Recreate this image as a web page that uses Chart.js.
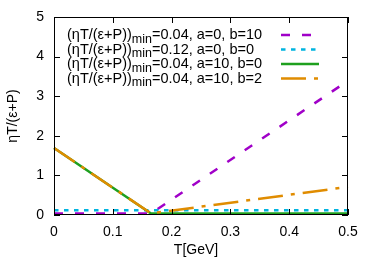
<!DOCTYPE html>
<html>
<head>
<meta charset="utf-8">
<script src="https://cdn.jsdelivr.net/npm/chart.js@4.4.1/dist/chart.umd.min.js"></script>
<style>
  html, body { margin: 0; padding: 0; background: #fff; }
  #wrap { width: 374px; height: 262px; }
</style>
</head>
<body>
<div id="wrap"><canvas id="c" width="374" height="262"></canvas></div>
<script>
// kink points of each curve
const temps = [0, 0.165, 0.5];
const seriesA0B10 = [0.04, 0.04, 3.39];
const seriesA0B0 = [0.12, 0.12, 0.12];
const seriesA10B0 = [1.69, 0.04, 0.04];
const seriesA10B2 = [1.69, 0.04, 0.71];

const xTicks = [0, 0.1, 0.2, 0.3, 0.4, 0.5];
const yTicks = [0, 1, 2, 3, 4, 5];

const legendMins = ["0.04", "0.12", "0.04", "0.04"];
const legendParams = [", a=0, b=10", ", a=0, b=0", ", a=10, b=0", ", a=10, b=2"];

const FONT = "Liberation Sans, Arial, sans-serif";
const colors = ["#a000c8", "#00b4e0", "#1ea01e", "#e08c00"];
const dashes = [[9, 12], [4.5, 5.5], [], [25, 8, 4, 8]];

const toPoints = (ys) => temps.map((t, i) => ({ x: t, y: ys[i] }));

// frame with inward ticks, gnuplot style, plus the key and x title
const framePlugin = {
  id: "frame",
  afterDraw(chart) {
    const { ctx, chartArea: a, scales } = chart;
    ctx.save();
    ctx.strokeStyle = "#000";
    ctx.lineWidth = 1;
    ctx.strokeRect(a.left + 0.5, a.top + 0.5, a.right - a.left - 1, a.bottom - a.top - 1);
    ctx.beginPath();
    xTicks.forEach((v) => {
      const px = Math.round(scales.x.getPixelForValue(v)) + 0.5;
      ctx.moveTo(px, a.bottom); ctx.lineTo(px, a.bottom - 6);
      ctx.moveTo(px, a.top); ctx.lineTo(px, a.top + 6);
    });
    yTicks.forEach((v) => {
      const py = Math.round(scales.y.getPixelForValue(v)) + 0.5;
      ctx.moveTo(a.left, py); ctx.lineTo(a.left + 6, py);
      ctx.moveTo(a.right, py); ctx.lineTo(a.right - 6, py);
    });
    ctx.stroke();

    ctx.fillStyle = "#000";
    ctx.font = "14px " + FONT;
    ctx.textAlign = "center";
    ctx.textBaseline = "middle";
    ctx.fillText("T[GeV]", 196, 250);

    // key
    ctx.textAlign = "left";
    const x0 = 67, sx0 = 281, sx1 = 319;
    const rows = [35, 49.5, 64, 78.5];
    rows.forEach((y, i) => {
      let x = x0;
      ctx.fillStyle = "#000";
      ctx.font = "14.5px " + FONT;
      const head = "(\u03b7T/(\u03b5+P))";
      ctx.fillText(head, x, y);
      x += ctx.measureText(head).width;
      ctx.font = "12.5px " + FONT;
      ctx.fillText("min", x, y + 4.5);
      x += ctx.measureText("min").width;
      ctx.font = "14.5px " + FONT;
      ctx.fillText("=" + legendMins[i] + legendParams[i], x, y);

      ctx.strokeStyle = colors[i];
      ctx.lineWidth = 2.5;
      ctx.setLineDash(dashes[i]);
      ctx.beginPath();
      ctx.moveTo(sx0, y); ctx.lineTo(sx1, y);
      ctx.stroke();
      ctx.setLineDash([]);
    });
    ctx.restore();
  }
};

const mk = (ys, i, order) => ({
  data: toPoints(ys),
  borderColor: colors[i],
  borderWidth: 2.5,
  borderDash: dashes[i],
  pointRadius: 0,
  fill: false,
  tension: 0,
  clip: 4,
  order: order
});

new Chart(document.getElementById("c"), {
  type: "line",
  data: {
    datasets: [
      mk(seriesA0B10, 0, 4),
      mk(seriesA0B0, 1, 3),
      mk(seriesA10B0, 2, 2),
      mk(seriesA10B2, 3, 1)
    ]
  },
  options: {
    responsive: false,
    animation: false,
    devicePixelRatio: 1,
    layout: { padding: { left: 0, top: 17, right: 26, bottom: 0 } },
    plugins: { legend: { display: false }, tooltip: { enabled: false } },
    scales: {
      x: {
        type: "linear",
        min: 0, max: 0.5,
        grid: { display: false },
        border: { display: false },
        afterBuildTicks: (s) => { s.ticks = xTicks.map((v) => ({ value: v })); },
        afterFit: (s) => { s.height = 47; },
        ticks: {
          color: "#000",
          padding: 1,
          maxRotation: 0,
          font: { family: FONT, size: 14 },
          callback: (v) => String(v)
        }
      },
      y: {
        min: 0, max: 5,
        grid: { display: false },
        border: { display: false },
        afterBuildTicks: (s) => { s.ticks = yTicks.map((v) => ({ value: v })); },
        afterFit: (s) => { s.width = 54; },
        ticks: {
          color: "#000",
          padding: 2,
          font: { family: FONT, size: 14 },
          callback: (v) => String(v)
        },
        title: {
          display: true,
          text: "\u03b7T/(\u03b5+P)",
          color: "#000",
          padding: { top: 5, bottom: 0 },
          font: { family: FONT, size: 14 }
        }
      }
    }
  },
  plugins: [framePlugin]
});
</script>
</body>
</html>
